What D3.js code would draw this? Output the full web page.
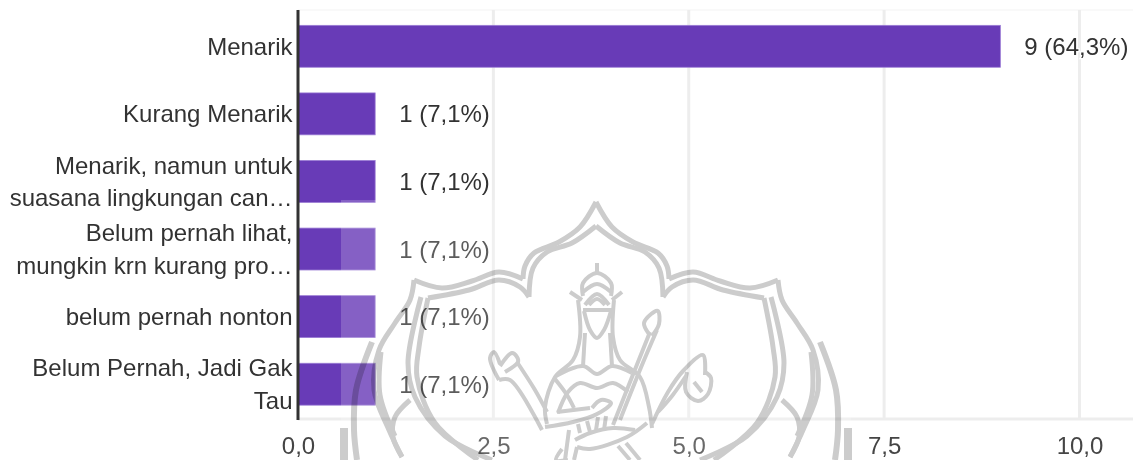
<!DOCTYPE html>
<html>
<head>
<meta charset="utf-8">
<script src="https://cdnjs.cloudflare.com/ajax/libs/d3/7.8.5/d3.min.js"></script>
<style>
html,body{margin:0;padding:0;background:#fff}
svg{display:block}
text{font-family:"Liberation Sans",Arial,sans-serif}
</style>
</head>
<body>
<svg id="chart" width="1133" height="460"></svg>
<script>
const categories = [
  ["Menarik"],
  ["Kurang Menarik"],
  ["Menarik, namun untuk", "suasana lingkungan can…"],
  ["Belum pernah lihat,", "mungkin krn kurang pro…"],
  ["belum pernah nonton"],
  ["Belum Pernah, Jadi Gak", "Tau"]
];
const counts = [9, 1, 1, 1, 1, 1];
const percents = ["64,3%", "7,1%", "7,1%", "7,1%", "7,1%", "7,1%"];
const xTicks = [0, 2.5, 5, 7.5, 10];

const W = 1133, H = 460;
const FONT = 24, BAR = "#673ab7", BAR_EDGE = "#9a7bd4", INK = "#333333";

const svg = d3.select("#chart");
const defs = svg.append("defs");
defs.append("filter").attr("id", "soft")
  .attr("x", 0).attr("y", 0).attr("width", 1).attr("height", 1)
  .attr("filterUnits", "objectBoundingBox")
  .append("feGaussianBlur").attr("stdDeviation", 0.5);

const root = svg.append("g").attr("filter", "url(#soft)");
root.append("rect").attr("width", W).attr("height", H).attr("fill", "#fff");

const x = d3.scaleLinear().domain([0, 10]).range([298, 1079.5]);
const y = d3.scaleBand().domain(d3.range(categories.length))
  .range([12.5, 418]).paddingInner(0.38).paddingOuter(0.19);

const plotTop = 10, plotBottom = 419;

// frame lines and vertical grid
root.append("line").attr("x1", 298).attr("x2", 1133).attr("y1", plotTop).attr("y2", plotTop)
  .attr("stroke", "#f9f9f9").attr("stroke-width", 2);
root.append("g").selectAll("line").data(xTicks.slice(1)).join("line")
  .attr("x1", d => x(d)).attr("x2", d => x(d))
  .attr("y1", plotTop).attr("y2", plotBottom)
  .attr("stroke", "#ededed").attr("stroke-width", 3);
root.append("line").attr("x1", 298).attr("x2", 1133).attr("y1", plotBottom).attr("y2", plotBottom)
  .attr("stroke", "#ededed").attr("stroke-width", 3);

// bars
root.append("g").selectAll("rect").data(counts).join("rect")
  .attr("x", x(0)).attr("y", (d, i) => y(i))
  .attr("width", d => x(d) - x(0) - 1).attr("height", y.bandwidth())
  .attr("fill", BAR).attr("stroke", BAR_EDGE).attr("stroke-width", 0.8);

// zero axis line
root.append("line").attr("x1", x(0)).attr("x2", x(0)).attr("y1", plotTop).attr("y2", plotBottom + 1)
  .attr("stroke", "#333").attr("stroke-width", 3);

// category labels
const lineGap = 32.5;
const cat = root.append("g").selectAll("text").data(categories).join("text")
  .attr("text-anchor", "end").attr("font-size", FONT).attr("fill", INK)
  .attr("y", (d, i) => y(i) + y.bandwidth() / 2 + 8.5);
cat.selectAll("tspan").data(d => d.map((t, k) => ({t, k, n: d.length}))).join("tspan")
  .attr("x", 292.5)
  .attr("dy", d => d.k === 0 ? -(d.n - 1) * lineGap / 2 : lineGap)
  .text(d => d.t);

// value labels
root.append("g").selectAll("text").data(counts).join("text")
  .attr("x", d => x(d) + 23).attr("y", (d, i) => y(i) + y.bandwidth() / 2 + 8.5)
  .attr("font-size", FONT).attr("fill", INK)
  .attr("stroke", "#fff").attr("stroke-width", 2.5).attr("paint-order", "stroke")
  .text((d, i) => `${d} (${percents[i]})`);

// bottom axis
const axis = d3.axisBottom(x).tickValues(xTicks).tickSize(0).tickPadding(0)
  .tickFormat(d => d3.format(".1f")(d).replace(".", ","));
const axisG = root.append("g").attr("transform", `translate(0,${plotBottom})`).call(axis);
axisG.select(".domain").remove();
axisG.selectAll("text").attr("font-size", FONT).attr("fill", "#444")
  .attr("font-family", '"Liberation Sans",Arial,sans-serif')
  .attr("dy", null).attr("y", 35);

// stamped watermark: pale wash plus seal drawing on top of the chart
root.append("rect").attr("x", 341).attr("y", 200).attr("width", 510).attr("height", 260)
  .attr("fill", "#fff").attr("opacity", 0.2);

const seal = root.append("g").attr("fill", "none").attr("stroke", "#000")
  .attr("opacity", 0.2).attr("stroke-width", 5)
  .attr("stroke-linejoin", "round").attr("stroke-linecap", "butt");

const curve = d3.line().curve(d3.curveCatmullRom.alpha(0.5));
const side = [
  // outer scalloped edge, tip to far shoulder, with a corner at each notch
  [[596,202],[612,227],[633,242],[658,253],[667,266],[669,279]],
  [[669,279],[693,272],[720,281],[750,288],[778,280]],
  [[778,280],[782,300],[797,323],[813,350],[818,390],[803,430],[790,457]],
  // inner scalloped edge
  [[596,226],[620,243],[645,252],[659,268],[663,297]],
  [[663,297],[672,287],[693,280],[723,290],[764,298]],
  [[764,298],[773,347],[775,377],[757,423],[714,460]],
  [[771,297],[784,363],[777,397],[747,436],[700,460]],
  [[811,352],[812,395],[797,436]],
  // inner flame
  [[782,400],[797,417],[799,437],[790,457]]
];
const crescent = [
  [[820,342],[836,390],[838,430],[835,460]]
];
const spike = [
  [[848,428],[848,460]]
];
const figure = [
  // crown
  [[597,263],[597,273]],
  [[583,296],[583,283],[597,273],[611,283],[611,296]],
  [[570,292],[582,300]], [[622,292],[612,300]],
  [[583,292],[597,284],[611,292]],
  [[585,305],[597,294],[609,305]],
  [[589,305],[597,299],[605,305]],
  // face
  [[583,310],[612,310]],
  [[584,311],[590,330],[597,338],[604,330],[611,311]],
  // hair and shoulders
  [[578,300],[580,337],[573,360],[555,377],[545,407],[547,424]],
  [[614,300],[613,337],[620,360],[640,377],[649,407],[652,428]],
  // neck and neckline
  [[585,333],[583,366]], [[610,333],[612,366]],
  [[556,376],[583,366],[597,374],[612,366],[632,373]],
  // bust
  [[558,413],[568,392],[580,383],[597,388],[613,383],[628,392]],
  [[555,379],[567,395],[574,408]],
  [[557,412],[590,408]],
  // arm across the body
  [[545,427],[573,422],[597,414],[611,403],[601,400],[592,408]],
  // bow
  [[620,420],[642,365],[657,330]],
  [[613,425],[638,362],[650,332]],
  [[649,334],[644,323],[654,312],[658,311],[659,324],[652,336]],
  // left arm and hand
  [[542,430],[510,380],[499,380]],
  [[547,412],[535,390],[517,362]],
  [[499,380],[490,358],[494,352],[500,364]],
  [[500,366],[512,353],[517,357],[518,362],[505,372]],
  // right arm and hand
  [[652,424],[668,392],[683,371],[703,355],[705,375]],
  [[658,412],[672,396],[686,376]],
  [[687,372],[686,392],[698,401],[708,394],[711,378],[705,372]],
  [[694,382],[702,392]],
  // skirt
  [[577,447],[590,449],[627,437],[647,423]],
  [[575,440],[590,433],[613,428],[635,430]],
  [[578,424],[580,433]], [[587,421],[590,432]], [[598,417],[596,430]], [[606,416],[604,430]],
  [[569,430],[565,460]],
  [[577,447],[574,460]],
  [[618,446],[630,460]], [[626,443],[640,460]],
  [[562,449],[556,460],[568,460]]
];

function mirrored(parent, lines, width) {
  const g = parent.append("g").attr("stroke-width", width);
  g.selectAll("path.r").data(lines).join("path").attr("class", "r").attr("d", d => curve(d));
  g.selectAll("path.l").data(lines).join("path").attr("class", "l")
    .attr("transform", "translate(1192,0) scale(-1,1)").attr("d", d => curve(d));
}
mirrored(seal, side, 5);
mirrored(seal, crescent, 6);
mirrored(seal, spike, 8);
seal.append("g").attr("stroke-width", 4).selectAll("path").data(figure).join("path").attr("d", d => curve(d));
</script>
</body>
</html>
